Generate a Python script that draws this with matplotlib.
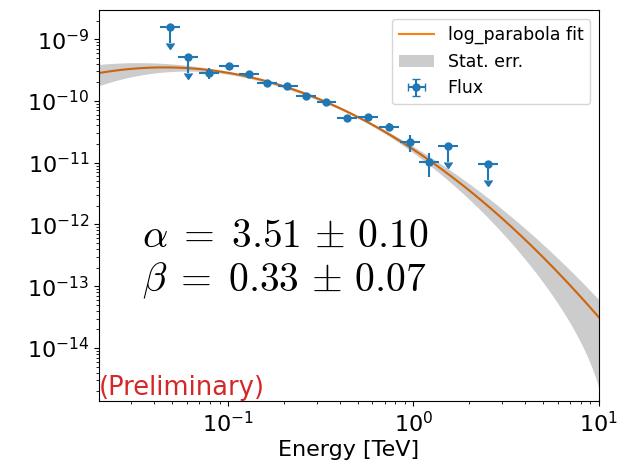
import matplotlib
matplotlib.use("Agg")
import matplotlib.pyplot as plt
import numpy as np

plt.rcParams['mathtext.fontset'] = 'cm'

# flux points [TeV]
energy = [0.0484, 0.0605, 0.0785, 0.1006, 0.129, 0.163, 0.209, 0.264,
          0.339, 0.44, 0.569, 0.738, 0.957, 1.21, 1.53, 2.51]
energy_lo = [0.0428, 0.0535, 0.0694, 0.0889, 0.114, 0.144, 0.185, 0.233,
             0.300, 0.389, 0.503, 0.652, 0.846, 1.07, 1.35, 2.22]
energy_hi = [0.0548, 0.0685, 0.0889, 0.114, 0.146, 0.184, 0.237, 0.299,
             0.384, 0.498, 0.644, 0.835, 1.083, 1.37, 1.73, 2.84]
flux = [1.56e-9, 5.1e-10, 2.82e-10, 3.65e-10, 2.72e-10, 1.94e-10, 1.77e-10, 1.22e-10,
        9.57e-11, 5.37e-11, 5.47e-11, 3.77e-11, 2.15e-11, 1.02e-11, 1.86e-11, 9.55e-12]
flux_err = [7.0e-10, 2.3e-10, 5.6e-11, 2.6e-11, 1.9e-11, 1.4e-11, 1.2e-11, 1.0e-11,
            7.7e-12, 5.4e-12, 5.5e-12, 5.7e-12, 6.5e-12, 4.4e-12, 8.4e-12, 4.3e-12]
is_ul = [True, True, False, False, False, False, False, False,
         False, False, False, False, False, False, True, True]

# log parabola fit (curve + stat. band)
alpha, alpha_err = 3.51, 0.10
beta, beta_err = 0.32, 0.068
e_ref = 0.48          # TeV
f_ref = 5.87e-11      # E^2 dN/dE at e_ref
amp_err = 0.05
corr = 0.987

E = np.logspace(np.log10(0.02), 1, 300)
u = np.log(E / e_ref)
model = f_ref * (E / e_ref) ** (2 - alpha - beta * u)
rel = np.sqrt(amp_err**2 + (alpha_err * u)**2 + (beta_err * u**2)**2
              + 2 * corr * alpha_err * beta_err * u**3)
upper = model * (1 + rel)
lower = model * np.clip(1 - rel, 1e-6, None)

energy = np.array(energy)
flux = np.array(flux)
xerr = [energy - np.array(energy_lo), np.array(energy_hi) - energy]

fig = plt.figure(figsize=(6.2, 4.63), dpi=100)
ax = fig.add_axes([0.16, 0.134, 0.806, 0.844])

ax.plot(E, model, color='tab:orange', lw=1.5, label='log_parabola fit', zorder=1)
ax.fill_between(E, lower, upper, color='k', alpha=0.2, lw=0, label='Stat. err.', zorder=1.5)
ax.errorbar(energy, flux, xerr=xerr, yerr=flux_err, uplims=is_ul, fmt='o',
            ms=5, color='tab:blue', label='Flux', zorder=3)

ax.set_xscale('log')
ax.set_yscale('log')
ax.set_xlim(0.0202, 10)
ax.set_ylim(1.39e-15, 2.94e-9)
ax.set_xlabel('Energy [TeV]', fontsize=16, labelpad=3)
ax.tick_params(labelsize=16)

ax.text(0.085, 0.394, r'$\alpha \;=\; 3.51 \,\pm\, 0.10$', transform=ax.transAxes,
        fontsize=28.5, va='baseline')
ax.text(0.085, 0.281, r'$\beta \;=\; 0.33 \,\pm\, 0.07$', transform=ax.transAxes,
        fontsize=28.5, va='baseline')
ax.text(0.0, 0.0, '(Preliminary)', transform=ax.transAxes, color='tab:red',
        fontsize=18.5, ha='left', va='bottom')

ax.legend(loc='upper right', fontsize=12.5)

fig.savefig('out.png', dpi=100)
